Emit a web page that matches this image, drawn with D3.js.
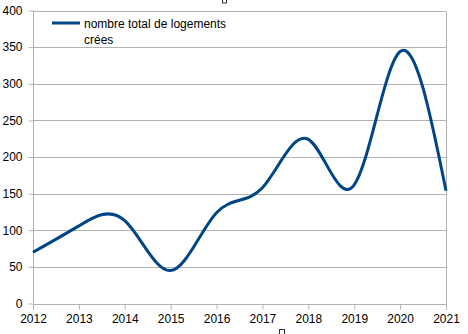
<!DOCTYPE html>
<html><head><meta charset="utf-8">
<script src="https://cdn.jsdelivr.net/npm/d3@7"></script>
<style>body{margin:0;background:#fff}svg{display:block}text{font-family:"Liberation Sans",Arial,sans-serif;}</style>
</head><body>
<script>
const years = [2012,2013,2014,2015,2016,2017,2018,2019,2020,2021];
const logements = [70,106,113,45,124,158,224,162,344,154];
const yTicks = [0,50,100,150,200,250,300,350,400];
const seriesName = ["nombre total de logements","crées"];

const W=468,H=334;
const svg=d3.select("body").append("svg").attr("width",W).attr("height",H);
const x=d3.scaleLinear().domain([2012,2021]).range([33,446]);
const y=d3.scaleLinear().domain([0,400]).range([303.5,10.5]);
const grid="#b3b3b3";

// gridlines
svg.append("g").selectAll("line").data(yTicks).join("line")
  .attr("x1",33).attr("x2",446).attr("y1",d=>Math.round(y(d))+0.5).attr("y2",d=>Math.round(y(d))+0.5)
  .attr("stroke",grid).attr("stroke-width",1);
// right border
svg.append("line").attr("x1",446.5).attr("x2",446.5).attr("y1",Math.round(y(400))+0.5).attr("y2",Math.round(y(0))+5)
  .attr("stroke",grid);

// y axis
const ya=svg.append("g").attr("transform","translate(33.5,0)")
  .call(d3.axisLeft(y).tickValues(yTicks).tickSize(5).tickPadding(6));
ya.select(".domain").attr("stroke",grid).attr("d",`M0,${y(400)}V${y(0)}`);
ya.selectAll(".tick line").attr("stroke",grid);
ya.selectAll("text").attr("font-size",12).attr("fill","#000").attr("font-family","Liberation Sans, Arial, sans-serif");

// x axis
const xa=svg.append("g").attr("transform",`translate(0,${Math.round(y(0))+0.5})`)
  .call(d3.axisBottom(x).tickValues(years).tickFormat(d3.format("d")).tickSize(5).tickPadding(5));
xa.select(".domain").attr("stroke",grid).attr("d",`M${x(2012)},0H${x(2021)}`);
xa.selectAll(".tick line").attr("stroke",grid);
xa.selectAll("text").attr("font-size",12).attr("fill","#000").attr("font-family","Liberation Sans, Arial, sans-serif");

// line
const line=d3.line().x((d,i)=>x(years[i])).y(d=>y(d)).curve(d3.curveNatural);
svg.append("path").attr("d",line(logements)).attr("fill","none")
  .attr("stroke","#004586").attr("stroke-width",3).attr("stroke-linejoin","round");

// legend
svg.append("line").attr("x1",52).attr("x2",80).attr("y1",23).attr("y2",23)
  .attr("stroke","#004586").attr("stroke-width",3);
svg.append("text").attr("x",84).attr("y",28).attr("font-size",12).attr("fill","#000").text(seriesName[0]);
svg.append("text").attr("x",84).attr("y",44).attr("font-size",12).attr("fill","#000").text(seriesName[1]);

// small placeholder marks
svg.append("rect").attr("x",222.5).attr("y",-2).attr("width",4).attr("height",5).attr("fill","none").attr("stroke","#333").attr("stroke-width",1);
svg.append("rect").attr("x",279.5).attr("y",329.5).attr("width",5).attr("height",6).attr("fill","none").attr("stroke","#333").attr("stroke-width",1);
</script>
</body></html>
